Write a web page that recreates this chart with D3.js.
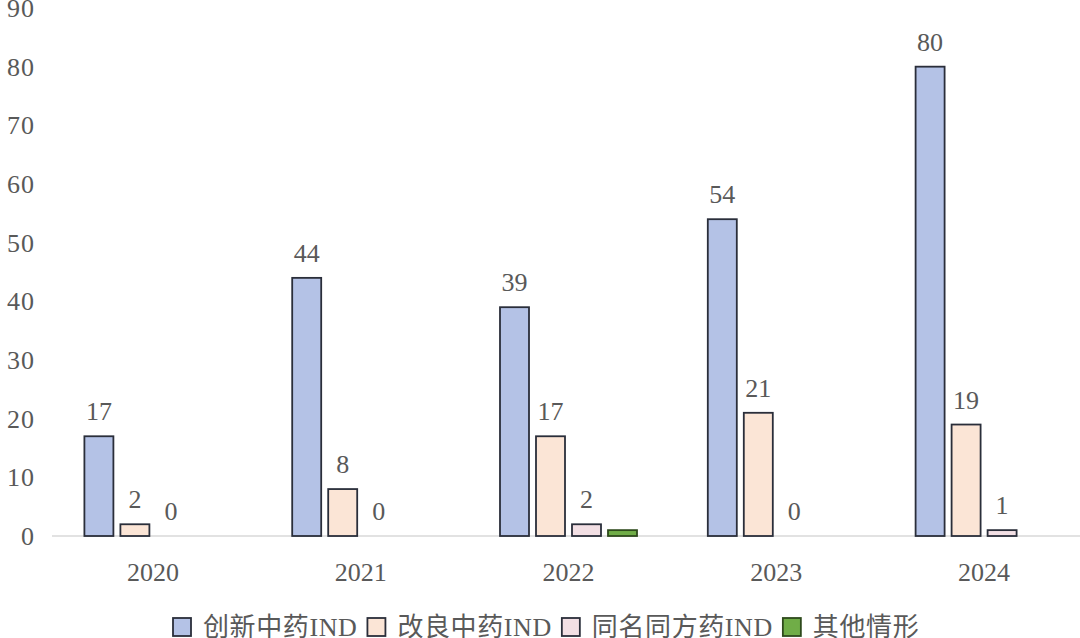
<!DOCTYPE html>
<html>
<head>
<meta charset="utf-8">
<script src="https://cdn.jsdelivr.net/npm/d3@7"></script>
<style>
  body { margin: 0; background: #fff; }
  svg text { font-family: "Liberation Serif", "Noto Sans CJK SC", serif; fill: #595959; }
</style>
</head>
<body>
<div id="chart"></div>
<script>
var years = ["2020", "2021", "2022", "2023", "2024"]
var seriesNames = ["创新中药IND", "改良中药IND", "同名同方药IND", "其他情形"]
var innovative = [17, 44, 39, 54, 80]
var improved = [2, 8, 17, 21, 19]
var sameName = [0, 0, 2, 0, 1]
var other = [0, 0, 1, 0, 0]
var yTicks = [0, 10, 20, 30, 40, 50, 60, 70, 80, 90]

var colors = ["#b4c2e6", "#fbe5d6", "#f2dfe4", "#70ad47"]
var strokes = ["#2a2e3a", "#2a2e3a", "#2a2e3a", "#2e4a1c"]
var showLabel = [true, true, true, false]
var values = [innovative, improved, sameName, other]

var width = 1080, height = 638

var svg = d3.select("#chart").append("svg")
  .attr("width", width)
  .attr("height", height)

var x = d3.scaleBand()
  .domain(years)
  .range([49, 1088])

var xs = d3.scaleBand()
  .domain(seriesNames)
  .range([-68.5, 68.5])
  .paddingInner(7 / 36)

var y = d3.scaleLinear()
  .domain([0, 90])
  .range([536, 8])

// y tick labels
svg.append("g").selectAll("text")
  .data(yTicks)
  .enter().append("text")
  .attr("x", 35)
  .attr("y", d => y(d))
  .attr("dy", "0.35em")
  .attr("text-anchor", "end")
  .style("font-size", "26px")
  .style("letter-spacing", "1px")
  .text(d => d)

// baseline
svg.append("line")
  .attr("x1", 52)
  .attr("x2", width)
  .attr("y1", y(0))
  .attr("y2", y(0))
  .attr("stroke", "#d9d9d9")
  .attr("stroke-width", 1.5)

// bars
seriesNames.forEach(function(name, si) {
  var g = svg.append("g").attr("class", "series")
  var data = years.map((yr, i) => ({year: yr, value: values[si][i]}))

  g.selectAll("rect")
    .data(data.filter(d => d.value > 0))
    .enter().append("rect")
    .attr("x", d => x(d.year) + x.bandwidth() / 2 + xs(name))
    .attr("y", d => y(d.value))
    .attr("width", xs.bandwidth())
    .attr("height", d => y(0) - y(d.value))
    .attr("fill", colors[si])
    .attr("stroke", strokes[si])
    .attr("stroke-width", 1.8)

  if (showLabel[si]) {
    g.selectAll("text")
      .data(data)
      .enter().append("text")
      .attr("x", d => x(d.year) + x.bandwidth() / 2 + xs(name) + xs.bandwidth() / 2)
      .attr("y", d => y(d.value) - 16)
      .attr("text-anchor", "middle")
      .style("font-size", "26px")
      .text(d => d.value)
  }
})

// x labels
svg.append("g").selectAll("text")
  .data(years)
  .enter().append("text")
  .attr("x", d => x(d) + x.bandwidth() / 2)
  .attr("y", 581)
  .attr("text-anchor", "middle")
  .style("font-size", "26px")
  .text(d => d)

// legend
var legend = svg.append("g").attr("transform", "translate(173, 627)")
var lx = 0
seriesNames.forEach(function(name, si) {
  var item = legend.append("g").attr("transform", "translate(" + lx + ",0)")
  item.append("rect")
    .attr("x", 0)
    .attr("y", -9)
    .attr("width", 18)
    .attr("height", 18)
    .attr("fill", colors[si])
    .attr("stroke", strokes[si])
    .attr("stroke-width", 1.8)
  var t = item.append("text")
    .attr("x", 30)
    .attr("y", 0)
    .attr("dy", "0.36em")
    .style("font-size", "26px")
    .style("letter-spacing", "0.6px")
    .text(name)
  lx += 30 + t.node().getComputedTextLength() + 10
})
</script>
</body>
</html>
